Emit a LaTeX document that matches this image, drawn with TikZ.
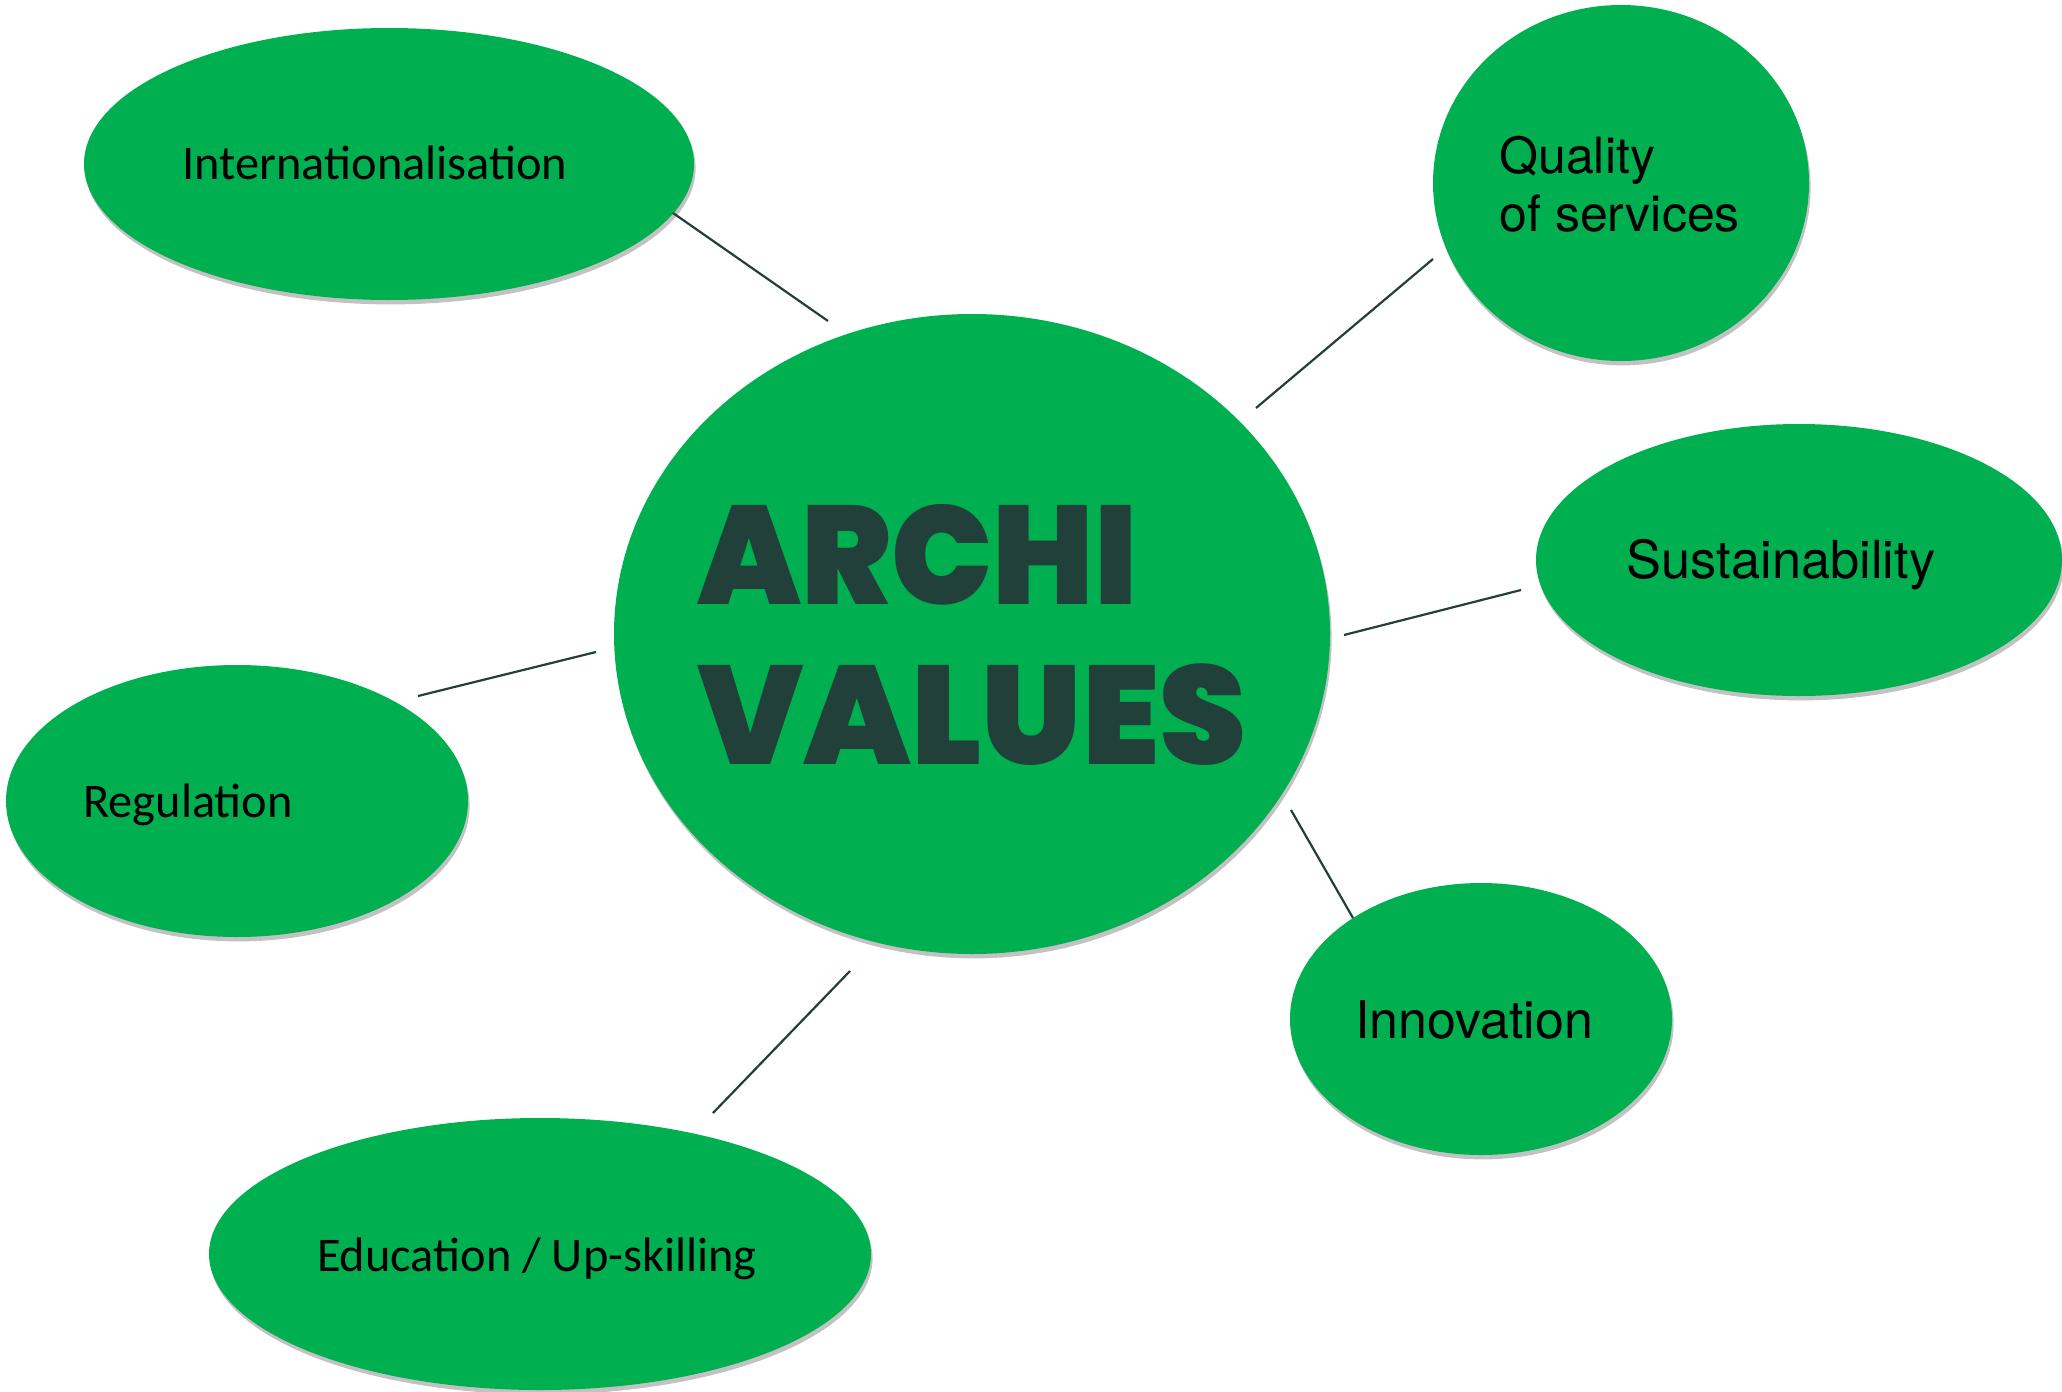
\documentclass[tikz,border=0pt]{standalone}
\usepackage{fontspec}
\setmainfont{Carlito}
\newfontfamily\plexfont{TeX Gyre Heros}
\newfontfamily\heavyfont{Poppins}[UprightFont={* Black}]
\usetikzlibrary{shapes.geometric,shadows}
\definecolor{bubble}{HTML}{00B050}
\definecolor{ink}{HTML}{22403A}
\begin{document}
\begin{tikzpicture}[x=0.5pt,y=-0.5pt,
  bubbleshape/.style={ellipse,fill=bubble,draw=none,inner sep=0pt,
    drop shadow={shadow xshift=0.8pt,shadow yshift=-2.2pt,fill=black!40,opacity=0.6}},
  calabel/.style={inner sep=0pt,font=\fontsize{24.2}{28}\selectfont,text=black},
  plabel/.style={inner sep=0pt,font=\plexfont\fontsize{#1}{29}\selectfont,text=black,align=left},
  bigtext/.style={inner sep=0pt,anchor=base west,text=ink,font=\heavyfont\fontsize{70}{80}\selectfont},
  link/.style={draw=ink,line width=1.1pt}]
\useasboundingbox (0,0) rectangle (2062,1392);
% bubbles
\node[bubbleshape,minimum width=305pt,minimum height=136pt] (intl) at (389,164) {};
\node[bubbleshape,minimum width=188pt,minimum height=178pt] (qual) at (1621,183) {};
\node[bubbleshape,minimum width=263pt,minimum height=136pt] (sust) at (1799,560) {};
\node[bubbleshape,minimum width=231pt,minimum height=136pt] (regu) at (237,801) {};
\node[bubbleshape,minimum width=358pt,minimum height=320pt] (core) at (972,634) {};
\node[bubbleshape,minimum width=191pt,minimum height=136pt] (inno) at (1481,1019) {};
\node[bubbleshape,minimum width=331pt,minimum height=136pt] (educ) at (540,1254) {};
% labels
\node[calabel] (intlT) at (375,163) {Internationalisation};
\node[plabel=25,anchor=west] (qualT) at (1499,184) {Quality\\of services};
\node[plabel=26.2] (sustT) at (1781,565) {Sustainability};
\node[calabel] (reguT) at (188,805) {Regulation};
\node[plabel=26] (innoT) at (1474,1020) {Innovation};
\node[calabel] (educT) at (537,1259) {Education / Up-skilling};
\node[bigtext] (archi) at (697,604) {\scalebox{0.96}[1]{ARCHI}};
\node[bigtext] (values) at (697,764) {\scalebox{0.995}[1]{VALUES}};
% connectors
\coordinate (l1a) at (673,213); \coordinate (l1b) at (828,321);
\coordinate (l2a) at (1256,408); \coordinate (l2b) at (1433,259);
\coordinate (l3a) at (1344,635); \coordinate (l3b) at (1521,590);
\coordinate (l4a) at (418,696); \coordinate (l4b) at (596,652);
\coordinate (l5a) at (1291,810); \coordinate (l5b) at (1353,918);
\coordinate (l6a) at (713,1113); \coordinate (l6b) at (850,971);
\draw[link] (l1a) -- (l1b);
\draw[link] (l2a) -- (l2b);
\draw[link] (l3a) -- (l3b);
\draw[link] (l4a) -- (l4b);
\draw[link] (l5a) -- (l5b);
\draw[link] (l6a) -- (l6b);
\end{tikzpicture}
\end{document}
